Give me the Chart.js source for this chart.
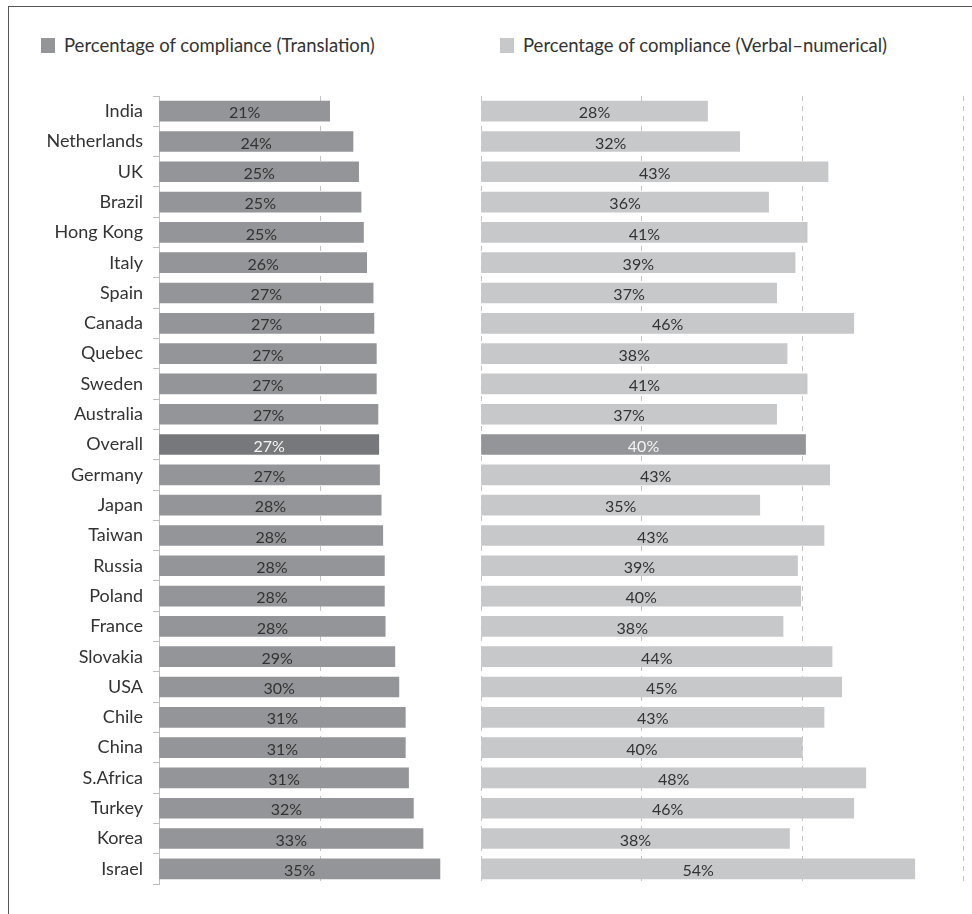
<!DOCTYPE html>
<html>
<head>
<meta charset="utf-8">
<script src="https://cdn.jsdelivr.net/npm/chart.js@4/dist/chart.umd.min.js"></script>
<style>
  html, body { margin: 0; padding: 0; background: #ffffff; }
  body { width: 972px; height: 914px; position: relative; overflow: hidden;
         font-family: Lato, "Open Sans", sans-serif; color: #333; }
  .frame { position: absolute; left: 8px; top: 6px; width: 980px; height: 930px;
           border-top: 1.5px solid #555; border-left: 1.5px solid #555; }
  .legend { position: absolute; top: 34px; font-size: 18.5px; line-height: 22px; color: #333; white-space: nowrap; }
  .legend .sw { display: inline-block; width: 14px; height: 15px; vertical-align: -1px; margin-right: 9px; }
  canvas { position: absolute; top: 0; }
</style>
</head>
<body>
<div class="frame"></div>
<div class="legend" style="left:41px"><span class="sw" style="background:#939598"></span>Percentage of compliance (Translation)</div>
<div class="legend" style="left:500px"><span class="sw" style="background:#c7c8ca"></span>Percentage of compliance (Verbal–numerical)</div>
<canvas id="left" width="490" height="914" style="left:0"></canvas>
<canvas id="right" width="492" height="914" style="left:480px"></canvas>
<script>
// Countries, top to bottom
const countries = ["India", "Netherlands", "UK", "Brazil", "Hong Kong", "Italy", "Spain", "Canada",
  "Quebec", "Sweden", "Australia", "Overall", "Germany", "Japan", "Taiwan", "Russia", "Poland",
  "France", "Slovakia", "USA", "Chile", "China", "S.Africa", "Turkey", "Korea", "Israel"];

// Percentage of compliance, translation task
const translation = [21.2, 24.1, 24.8, 25.1, 25.4, 25.8, 26.6, 26.7, 27.0, 27.0, 27.2, 27.3, 27.4,
  27.6, 27.8, 28.0, 28.0, 28.1, 29.3, 29.8, 30.6, 30.6, 31.0, 31.6, 32.8, 34.9];

// Percentage of compliance, verbal-numerical task
const verbalNumerical = [28.2, 32.2, 43.2, 35.8, 40.6, 39.1, 36.8, 46.4, 38.1, 40.6, 36.8, 40.4, 43.4,
  34.7, 42.7, 39.4, 39.8, 37.6, 43.7, 44.9, 42.7, 40.0, 47.9, 46.4, 38.4, 54.0];

// Axis ticks (percent)
const leftTicks = [0, 20, 40];
const rightTicks = [0, 20, 40, 60];

const highlight = "Overall";
const FONT = "Lato, 'Open Sans', sans-serif";

// Writes the rounded value in the middle of every bar
const valueLabels = {
  id: "valueLabels",
  afterDatasetsDraw(chart) {
    const ctx = chart.ctx;
    const ds = chart.data.datasets[0];
    const meta = chart.getDatasetMeta(0);
    ctx.save();
    ctx.font = "16px " + FONT;
    ctx.textAlign = "center";
    ctx.textBaseline = "middle";
    meta.data.forEach((bar, i) => {
      const v = ds.data[i];
      ctx.fillStyle = chart.data.labels[i] === highlight ? "#f4f4f4" : "#333333";
      ctx.fillText(Math.round(v) + "%", (bar.base + bar.x) / 2, bar.y + 2);
    });
    ctx.restore();
  }
};

function xScale(max, ticks) {
  return {
    min: 0, max: max,
    afterBuildTicks(scale) { scale.ticks = ticks.map(v => ({ value: v })); },
    afterFit(scale) { scale.height = 0; },
    ticks: { display: false },
    border: { display: false, dash: [5, 5] },
    grid: { color: "#c4c4c4", lineWidth: 1, drawTicks: false }
  };
}

function makeChart(id, values, base, hi, opts) {
  return new Chart(document.getElementById(id), {
    type: "bar",
    data: {
      labels: countries,
      datasets: [{
        data: values,
        backgroundColor: countries.map(c => c === highlight ? hi : base),
        borderWidth: 0,
        barThickness: 20
      }]
    },
    options: {
      indexAxis: "y",
      responsive: false,
      animation: false,
      events: [],
      layout: { padding: opts.padding },
      plugins: { legend: { display: false }, tooltip: { enabled: false } },
      scales: { x: xScale(opts.max, opts.ticks), y: opts.y }
    },
    plugins: [valueLabels]
  });
}

// Left panel: country names on a solid axis with boundary ticks
makeChart("left", translation, "#939598", "#77787b", {
  max: 40, ticks: leftTicks,
  padding: { left: 0, right: 9, top: 96, bottom: 30 },
  y: {
    afterFit(scale) { scale.width = 159; },
    border: { display: true, color: "#bdbdbd", width: 1 },
    grid: { offset: true, drawOnChartArea: false, color: "#bdbdbd", tickLength: 6 },
    ticks: { color: "#333333", padding: 10, font: { family: FONT, size: 18 } }
  }
});

// Right panel: bars only
makeChart("right", verbalNumerical, "#c7c8ca", "#939598", {
  max: 60, ticks: rightTicks,
  padding: { left: 1, right: 9, top: 96, bottom: 30 },
  y: { display: false }
});
</script>
</body>
</html>
